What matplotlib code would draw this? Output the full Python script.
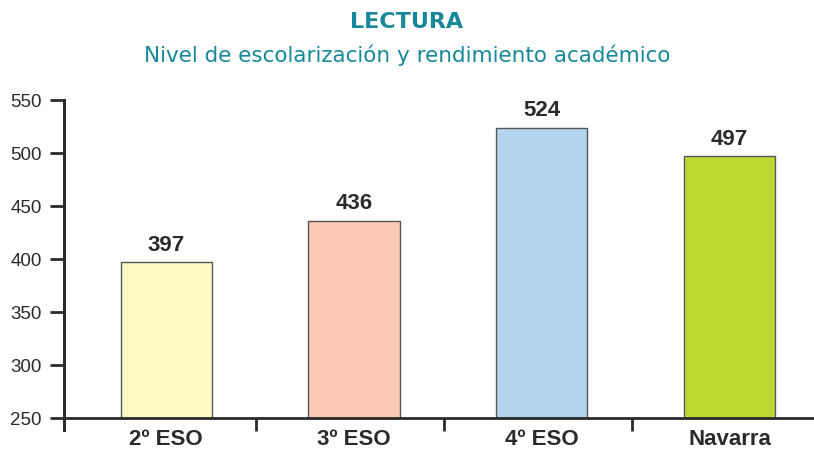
import matplotlib
matplotlib.use('Agg')
import matplotlib.pyplot as plt
import numpy as np

# data
categories = ['2º ESO', '3º ESO', '4º ESO', 'Navarra']
scores = [397, 436, 524, 497]
bar_colors = ['#FFF9C6', '#FAC9B3', '#B3D4EE', '#BED732']
yticks = [250, 300, 350, 400, 450, 500, 550]

teal = '#168899'
dark = '#2B2B2B'

fig = plt.figure(figsize=(8.14, 4.51), dpi=100)
ax = fig.add_axes([0.0786, 0.046, 0.9214, 0.732])

x = np.arange(len(categories))
ax.bar(x, np.array(scores) - 250, bottom=250, width=0.486, color=bar_colors,
       edgecolor='#555555', linewidth=1.0, zorder=2)

for xi, v in zip(x, scores):
    ax.text(xi, v + 11, str(v), ha='center', va='baseline', fontsize=16,
            fontweight='bold', color=dark, family='Liberation Sans')

ax.set_ylim(238.5, 550)
ax.set_xlim(-0.545, 3.45)
ax.set_yticks(yticks)
ax.set_yticklabels([str(t) for t in yticks], fontsize=13.5, color=dark,
                   family='Liberation Sans')

ax.spines['top'].set_visible(False)
ax.spines['right'].set_visible(False)
ax.spines['left'].set_linewidth(2.2)
ax.spines['left'].set_color(dark)
ax.spines['bottom'].set_position(('data', 250))
ax.spines['bottom'].set_linewidth(2)
ax.spines['bottom'].set_color(dark)
ax.tick_params(axis='y', direction='out', length=10, width=2, color=dark, pad=6)

# category labels under the bars, tick marks between categories
ax.set_xticks(x[:-1] + 0.48)
ax.set_xticklabels([])
ax.tick_params(axis='x', direction='out', length=9, width=2, color=dark)
for xi, c in zip(x, categories):
    ax.text(xi, 224.5, c, ha='center', va='baseline', fontsize=16,
            fontweight='bold', color=dark, family='Liberation Sans',
            clip_on=False)

fig.text(0.5, 0.951, 'LECTURA', ha='center', va='center', fontsize=16,
         fontweight='bold', color=teal, family='DejaVu Sans')
fig.text(0.5, 0.878, 'Nivel de escolarización y rendimiento académico',
         ha='center', va='center', fontsize=15.5, color=teal,
         family='DejaVu Sans')

fig.savefig('out.png', dpi=100)
